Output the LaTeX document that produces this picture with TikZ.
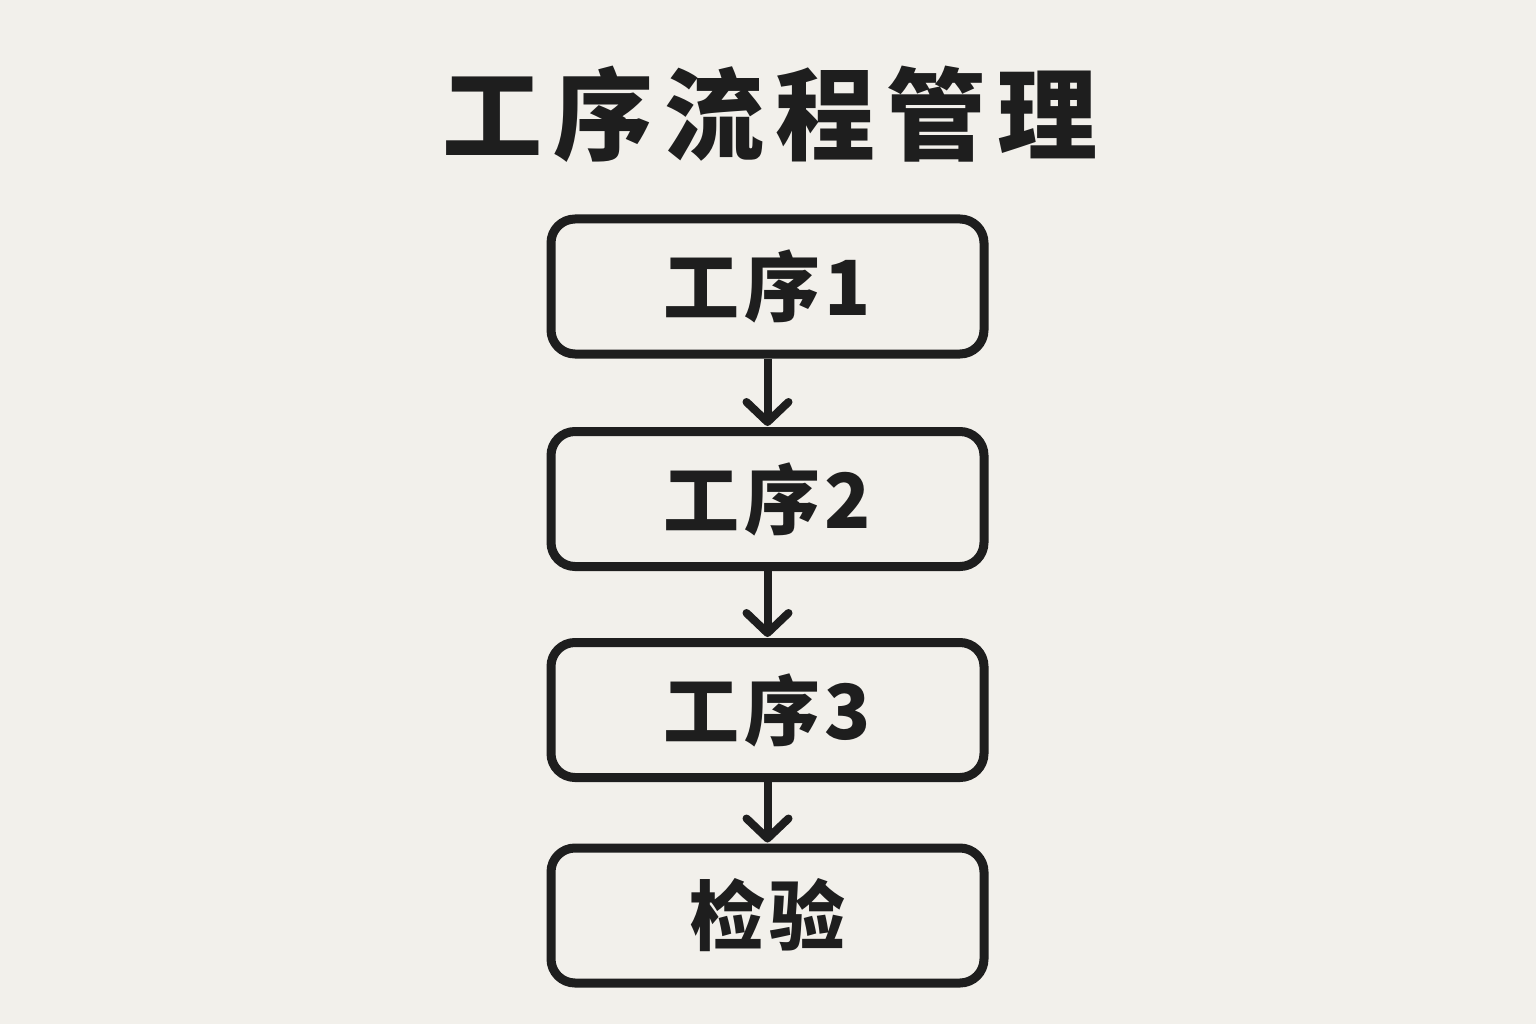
\documentclass[tikz,border=0pt]{standalone}
\usepackage{fontspec}
\usetikzlibrary{arrows.meta}
\newfontfamily\cjktitle[LetterSpace=11]{Noto Sans CJK SC}
\newfontfamily\cjkbox[LetterSpace=6]{Noto Sans CJK SC}
\definecolor{bg}{HTML}{F2F0EB}
\definecolor{ink}{HTML}{1E1E1E}
\tikzset{
  stepbox/.style={draw=ink, line width=9pt, rounded corners=24pt, fill=bg,
    minimum width=433pt, minimum height=135pt, inner sep=0pt,
    text=ink, font={\cjkbox\bfseries\fontsize{76}{76}\selectfont}},
  flow/.style={draw=ink, line width=8pt,
    -{Straight Barb[length=20pt,width=42pt,line width=8pt,round]}, shorten >=1pt},
}
\begin{document}
\begin{tikzpicture}[x=1pt,y=-1pt]
\fill[bg] (0,0) rectangle (1536,1024);
\useasboundingbox (0,0) rectangle (1536,1024);
\node[text=ink, font={\cjktitle\bfseries\fontsize{100}{100}\selectfont}] (title) at (770,114) {工序流程管理};
\node[stepbox] (s1) at (767.5,286.5) {\raisebox{-3pt}{工序1}};
\node[stepbox] (s2) at (767.5,499) {\raisebox{-3pt}{工序2}};
\node[stepbox] (s3) at (767.5,710) {\raisebox{-3pt}{工序3}};
\node[stepbox] (s4) at (767.5,915.5) {\raisebox{-3pt}{检验}};
\draw[flow] (s1) -- (s2);
\draw[flow] (s2) -- (s3);
\draw[flow] (s3) -- (s4);
\end{tikzpicture}
\end{document}
